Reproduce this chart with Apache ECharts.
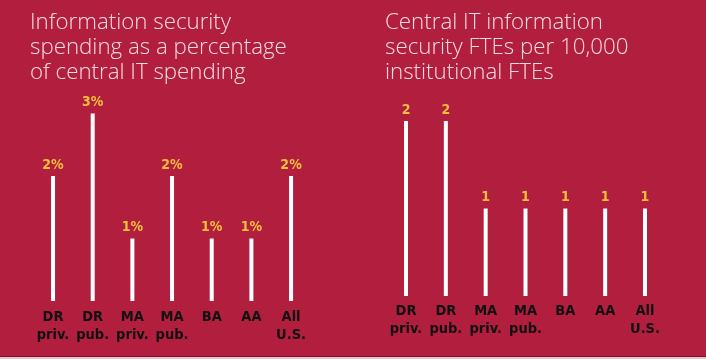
<!DOCTYPE html>
<html><head><meta charset="utf-8">
<script src="https://cdn.jsdelivr.net/npm/echarts@6/dist/echarts.min.js"></script>
<style>html,body{margin:0;padding:0;background:#B21E3E}#c{width:706px;height:359px}</style>
</head><body><div id="c"></div>
<script>
const categories = ['DR\npriv.', 'DR\npub.', 'MA\npriv.', 'MA\npub.', 'BA', 'AA', 'All\nU.S.'];
const spendingPct = [2, 3, 1, 2, 1, 1, 2];
const ftesPer10k = [2, 2, 1, 1, 1, 1, 1];
const titleLeft = 'Information security\nspending as a percentage\nof central IT spending';
const titleRight = 'Central IT information\nsecurity FTEs per 10,000\ninstitutional FTEs';

const chart = echarts.init(document.getElementById('c'));
const titleStyle = {color: '#F4DCE0', fontSize: 22.3, fontWeight: 300, fontFamily: 'Open Sans', lineHeight: 25};
const labelStyle = {color: '#111', fontSize: 14.5, fontWeight: 'bold', fontFamily: 'DejaVu Sans Condensed', lineHeight: 18};
function xAx(i, margin) {
  return {type: 'category', gridIndex: i, data: categories, axisLine: {show: false}, axisTick: {show: false},
    axisLabel: Object.assign({margin: margin, interval: 0}, labelStyle)};
}
function yAx(i, max) {
  return {type: 'value', gridIndex: i, min: 0, max: max, show: false, splitLine: {show: false}};
}
function bar(i, data, fmt) {
  return {type: 'bar', xAxisIndex: i, yAxisIndex: i, data: data, barWidth: 4,
    itemStyle: {color: '#FFFFFF'}, silent: true,
    label: {show: true, position: 'top', distance: 4, formatter: fmt, color: '#F2C03A',
      fontSize: 14, fontWeight: 'bold', fontFamily: 'DejaVu Sans Condensed'}};
}
chart.setOption({
  backgroundColor: '#B21E3E',
  animation: false,
  title: [
    {text: titleLeft, left: 30, top: 10, textStyle: titleStyle, padding: 0},
    {text: titleRight, left: 385, top: 10, textStyle: titleStyle, padding: 0}
  ],
  grid: [
    {left: 33.2, width: 277.7, top: 113.5, bottom: 58},
    {left: 386.1, width: 278.8, top: 121, bottom: 63}
  ],
  xAxis: [xAx(0, 7), xAx(1, 6)],
  yAxis: [yAx(0, 3), yAx(1, 2)],
  series: [
    bar(0, spendingPct, p => p.value + '%'),
    bar(1, ftesPer10k, p => String(p.value))
  ],
  graphic: [
    {type: 'rect', shape: {x: 0, y: 356, width: 706, height: 1}, style: {fill: '#7E1028'}, silent: true},
    {type: 'rect', shape: {x: 0, y: 357, width: 706, height: 2}, style: {fill: '#E9C3CB'}, silent: true}
  ]
});
</script></body></html>
